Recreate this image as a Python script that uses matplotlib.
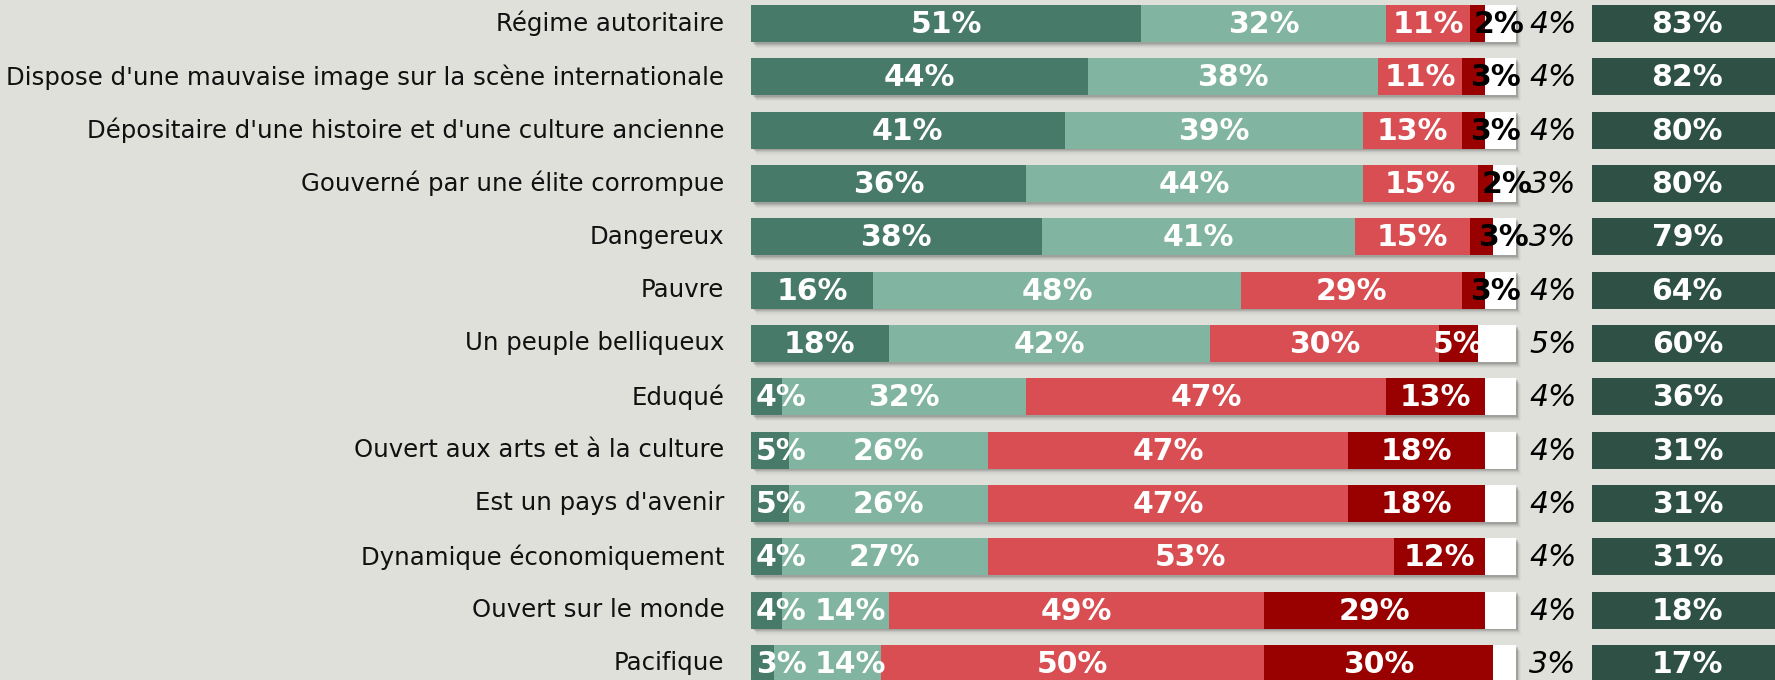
import matplotlib.pyplot as plt
import numpy as np

# données (en %)
categories = [
    "Régime autoritaire",
    "Dispose d'une mauvaise image sur la scène internationale",
    "Dépositaire d'une histoire et d'une culture ancienne",
    "Gouverné par une élite corrompue",
    "Dangereux",
    "Pauvre",
    "Un peuple belliqueux",
    "Eduqué",
    "Ouvert aux arts et à la culture",
    "Est un pays d'avenir",
    "Dynamique économiquement",
    "Ouvert sur le monde",
    "Pacifique",
]
tout_a_fait = [51, 44, 41, 36, 38, 16, 18, 4, 5, 5, 4, 4, 3]
plutot_oui = [32, 38, 39, 44, 41, 48, 42, 32, 26, 26, 27, 14, 14]
plutot_non = [11, 11, 13, 15, 15, 29, 30, 47, 47, 47, 53, 49, 50]
pas_du_tout = [2, 3, 3, 2, 3, 3, 5, 13, 18, 18, 12, 29, 30]
nsp = [4, 4, 4, 3, 3, 4, 5, 4, 4, 4, 4, 4, 3]
total_oui = [83, 82, 80, 80, 79, 64, 60, 36, 31, 31, 31, 18, 17]

series = [tout_a_fait, plutot_oui, plutot_non, pas_du_tout, nsp]
colors = ['#477A69', '#81B5A1', '#D94E52', '#990000', '#FFFFFF']
bg = '#DFE0DA'

fig = plt.figure(figsize=(17.75, 6.8), dpi=100, facecolor=bg)
ax = fig.add_axes([0, 0, 1, 1])
ax.set_facecolor(bg)
ax.set_xlim(-98.17, 133.86)
ax.set_ylim(12.31, -0.44)
ax.axis('off')

y = np.arange(len(categories))
h = 0.694

# ombre portée sous les barres
full = np.array(series).sum(axis=0)
for k, a in enumerate([0.16, 0.12, 0.09, 0.06, 0.04]):
    ax.barh(y + 0.03 + 0.02 * k, full, left=0.2 + 0.13 * k, height=h,
            color='#444444', alpha=a, linewidth=0, zorder=1)

left = np.zeros(len(categories))
for s, (vals, col) in enumerate(zip(series, colors)):
    vals = np.array(vals)
    ax.barh(y, vals, left=left, height=h, color=col, linewidth=0, zorder=2)
    if s < 4:
        for i, v in enumerate(vals):
            x = left[i] + v / 2
            ha = 'center'
            tc = 'white'
            if s == 0 and v < 6:
                x, ha = 0.6, 'left'
            if s == 1 and tout_a_fait[i] < 6:
                x = max(x, 13.0)
            if s == 3 and v < 4:
                tc = 'black'
                x += 2.8
            ax.text(x, y[i] + 0.02, f"{v}%", ha=ha, va='center', color=tc,
                    fontsize=21.5, fontweight='bold', zorder=3)
    else:
        for i, v in enumerate(vals):
            ax.text(104.8, y[i] + 0.02, f"{v}%", ha='center', va='center',
                    color='black', fontsize=21.5, style='italic', zorder=3)
    left += vals

# total oui
ax.barh(y, [40] * len(y), left=110, height=h, color='#2F5045', linewidth=0, zorder=2)
for i, v in enumerate(total_oui):
    ax.text(122.4, y[i] + 0.02, f"{v}%", ha='center', va='center', color='white',
            fontsize=21.5, fontweight='bold', zorder=3)

for i, c in enumerate(categories):
    ax.text(-3.5, y[i], c, ha='right', va='center', color='#111111', fontsize=17.6)

plt.savefig('out.png', dpi=100, facecolor=bg)
